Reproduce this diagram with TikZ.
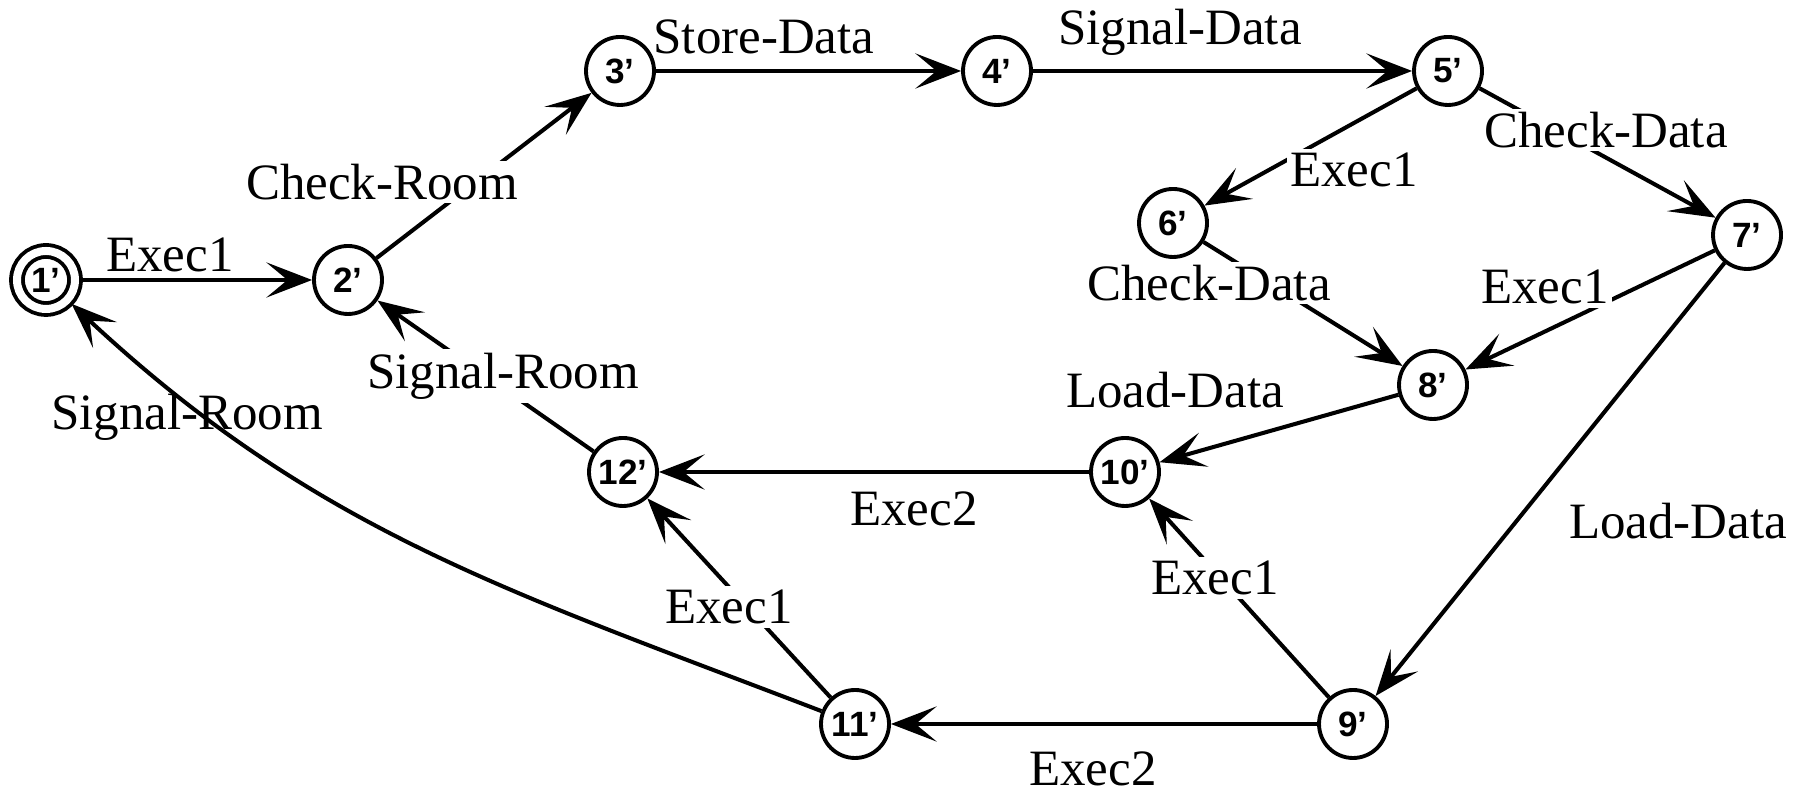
\documentclass[tikz,border=0pt]{standalone}
\usepackage{fontspec}
\setmainfont{Liberation Serif}
\newfontfamily\statefont{Liberation Sans}
\usetikzlibrary{arrows.meta}

\begin{document}
\begin{tikzpicture}[
    state/.style={draw, circle, line width=1.1pt, minimum size=0.68cm, inner sep=0pt, fill=white,
        font=\statefont\bfseries\fontsize{10}{12}\selectfont},
    start/.style={state, minimum size=0.58cm, double, double distance=0.08cm, outer sep=0.06cm},
    trans/.style={-{Stealth[length=13pt, width=10pt, inset=6pt]}, line width=1.15pt},
    lbl/.style={font=\fontsize{14.5}{17}\selectfont, inner sep=1pt},
    onlbl/.style={lbl, fill=white},
]
    \useasboundingbox (0, 0) rectangle (18.14, 7.95);
    % states
    \node[start] (s1) at (0.46, 5.15) {1’};
    \node[state] (s2) at (3.48, 5.15) {2’};
    \node[state] (s3) at (6.20, 7.24) {3’};
    \node[state] (s4) at (9.97, 7.24) {4’};
    \node[state] (s5) at (14.48, 7.24) {5’};
    \node[state] (s6) at (11.73, 5.72) {6’};
    \node[state] (s7) at (17.47, 5.60) {7’};
    \node[state] (s8) at (14.33, 4.10) {8’};
    \node[state] (s10) at (11.25, 3.23) {10’};
    \node[state] (s12) at (6.23, 3.23) {12’};
    \node[state] (s9) at (13.53, 0.71) {9’};
    \node[state] (s11) at (8.55, 0.71) {11’};
    % transitions
    \draw[trans] (s1) -- (s2);
    \draw[trans] (s2) -- (s3);
    \draw[trans] (s3) -- (s4);
    \draw[trans] (s4) -- (s5);
    \draw[trans] (s5) -- (s6);
    \draw[trans] (s5) -- (s7);
    \draw[trans] (s6) -- (s8);
    \draw[trans] (s7) -- (s8);
    \draw[trans] (s7) -- (s9);
    \draw[trans] (s8) -- (s10);
    \draw[trans] (s9) -- (s10);
    \draw[trans] (s10) -- (s12);
    \draw[trans] (s9) -- (s11);
    \draw[trans] (s11) -- (s12);
    \draw[trans] (s12) -- (s2);
    \draw[trans] (s11) to[out=159, in=-43] (s1);
    % labels
    \node[lbl] (la) at (1.70, 5.40) {Exec1};
    \node[onlbl] (lb) at (3.82, 6.13) {Check-Room};
    \node[lbl] (lc) at (7.64, 7.58) {Store-Data};
    \node[lbl] (ld) at (11.80, 7.63) {Signal-Data};
    \node[onlbl] (le) at (13.54, 6.25) {Exec1};
    \node[onlbl] (lf) at (16.06, 6.65) {Check-Data};
    \node[onlbl] (lg) at (12.09, 5.12) {Check-Data};
    \node[onlbl] (lh) at (15.45, 5.08) {Exec1};
    \node[lbl] (li) at (11.75, 4.05) {Load-Data};
    \node[onlbl] (lj) at (5.03, 4.19) {Signal-Room};
    \node[lbl] (lk) at (1.87, 3.78) {Signal-Room};
    \node[lbl] (ll) at (9.14, 2.86) {Exec2};
    \node[lbl] (lm) at (16.78, 2.74) {Load-Data};
    \node[onlbl] (ln) at (12.15, 2.17) {Exec1};
    \node[onlbl] (lo) at (7.29, 1.88) {Exec1};
    \node[lbl] (lp) at (10.93, 0.26) {Exec2};
\end{tikzpicture}
\end{document}
